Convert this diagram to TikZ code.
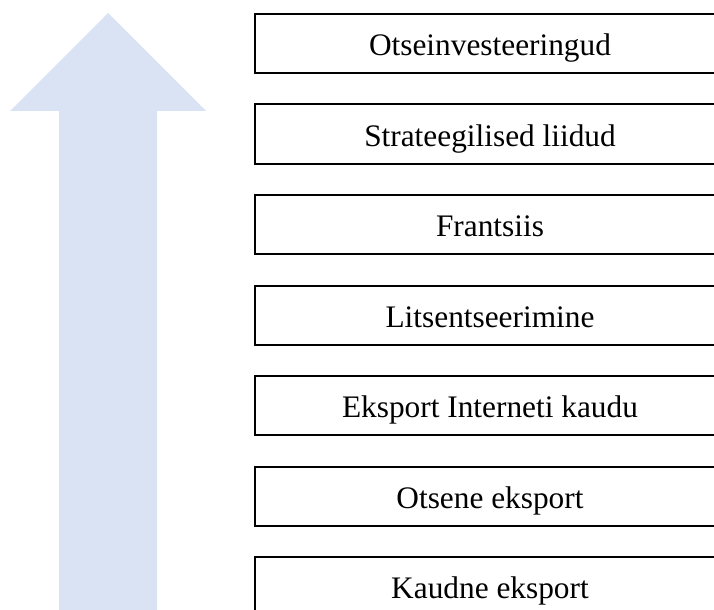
\documentclass[tikz,border=0pt]{standalone}
\usepackage{fontspec}
\setmainfont{Liberation Serif}
\usepackage{tikz}
\definecolor{arrowblue}{RGB}{218,227,243}
\tikzset{
	stage/.style={draw, line width=1.5pt, anchor=north west, minimum width=352.5pt, minimum height=44.5pt, inner sep=0pt, text height=18pt, text depth=0pt, font=\fontsize{23.5}{28}\selectfont}
}

\begin{document}
\begin{tikzpicture}[x=0.75pt, y=-0.75pt]
	\useasboundingbox (0,0) rectangle (714,610);
	\clip (0,0) rectangle (714,610);
	\fill[arrowblue] (108,13) -- (206,111) -- (157,111) -- (157,615) -- (59,615) -- (59,111) -- (10,111) -- cycle;
	
	\node[stage] (0) at (254,13) {Otseinvesteeringud};
	\node[stage] (1) at (254,103.5) {Strateegilised liidud};
	\node[stage] (2) at (254,194) {Frantsiis};
	\node[stage] (3) at (254,284.5) {Litsentseerimine};
	\node[stage] (4) at (254,375) {Eksport Interneti kaudu};
	\node[stage] (5) at (254,465.5) {Otsene eksport};
	\node[stage] (6) at (254,556) {Kaudne eksport};
\end{tikzpicture}
\end{document}
